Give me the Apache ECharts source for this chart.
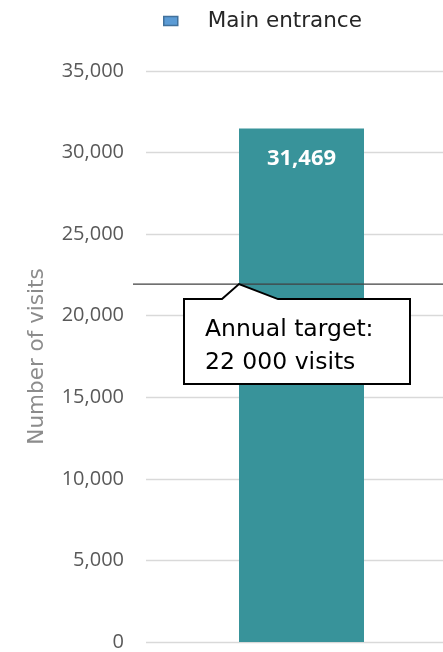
<!DOCTYPE html>
<html><head><meta charset="utf-8">
<script src="https://cdn.jsdelivr.net/npm/echarts@6/dist/echarts.min.js"></script>
<style>html,body{margin:0;padding:0;background:#fff}#c{width:443px;height:652px}</style>
</head><body><div id="c"></div>
<script>
const categories = ['Main entrance'];
const visits = [31469];
const target = 22000;
const targetText = 'Annual target:\n22 000 visits';
const yTicks = [0, 5000, 10000, 15000, 20000, 25000, 30000, 35000];

const chart = echarts.init(document.getElementById('c'));
const fmt = v => v.toLocaleString('en-US');
chart.setOption({
  animation: false,
  legend: {
    data: [{name: 'Main entrance', itemStyle: {color: '#5b9bd5', borderColor: '#41719c', borderWidth: 1.5}}],
    top: 5, left: 158,
    itemWidth: 14, itemHeight: 9, itemGap: 10,
    icon: 'rect',
    textStyle: {fontFamily: 'DejaVu Sans', fontSize: 21.5, color: '#262626', padding: [0,0,0,25]}
  },
  grid: {left: 146, width: 311, top: 71, bottom: 10, containLabel: false, outerBoundsMode: 'none'},
  xAxis: {type: 'category', data: categories, axisLine: {show: false}, axisTick: {show: false}, axisLabel: {show: false}},
  yAxis: {
    type: 'value', min: 0, max: 35000, interval: 5000,
    name: 'Number of visits', nameLocation: 'middle', nameGap: 98,
    nameTextStyle: {fontFamily: 'DejaVu Sans', fontSize: 21.5, color: '#8c8c8c'},
    axisLabel: {fontFamily: 'Open Sans', fontSize: 20, color: '#595959', margin: 22, formatter: fmt},
    splitLine: {lineStyle: {color: '#d9d9d9', width: 1.3}},
    axisLine: {show: false}, axisTick: {show: false}
  },
  series: [{
    name: 'Main entrance', type: 'bar', data: visits, barWidth: 125,
    itemStyle: {color: '#38939a'},
    label: {show: true, position: 'insideTop', distance: 19, color: '#fff', fontWeight: 'bold', fontFamily: 'Open Sans', fontSize: 22, formatter: p => fmt(p.value)}
  }]
});

const ty = chart.convertToPixel({yAxisIndex: 0}, target) + 1;
const cx = chart.convertToPixel({xAxisIndex: 0}, categories[0]);
const tipX = cx - 62.5;
const bx0 = tipX - 55, bx1 = tipX + 171, by0 = ty + 15, by1 = ty + 100;
chart.setOption({
  graphic: [
    {type: 'line', shape: {x1: 133, y1: ty, x2: 443, y2: ty}, style: {stroke: '#404040', lineWidth: 1.3}, z: 100},
    {type: 'polygon', shape: {points: [[bx0, by0], [tipX - 17, by0], [tipX, ty], [tipX + 39, by0], [bx1, by0], [bx1, by1], [bx0, by1]]},
      style: {fill: '#fff', stroke: '#000', lineWidth: 2}, z: 101},
    {type: 'text', left: bx0 + 21, top: by0 + 14, z: 102,
      style: {text: targetText, fill: '#000', font: '23.5px "DejaVu Sans"', lineHeight: 33}}
  ]
});
</script></body></html>
